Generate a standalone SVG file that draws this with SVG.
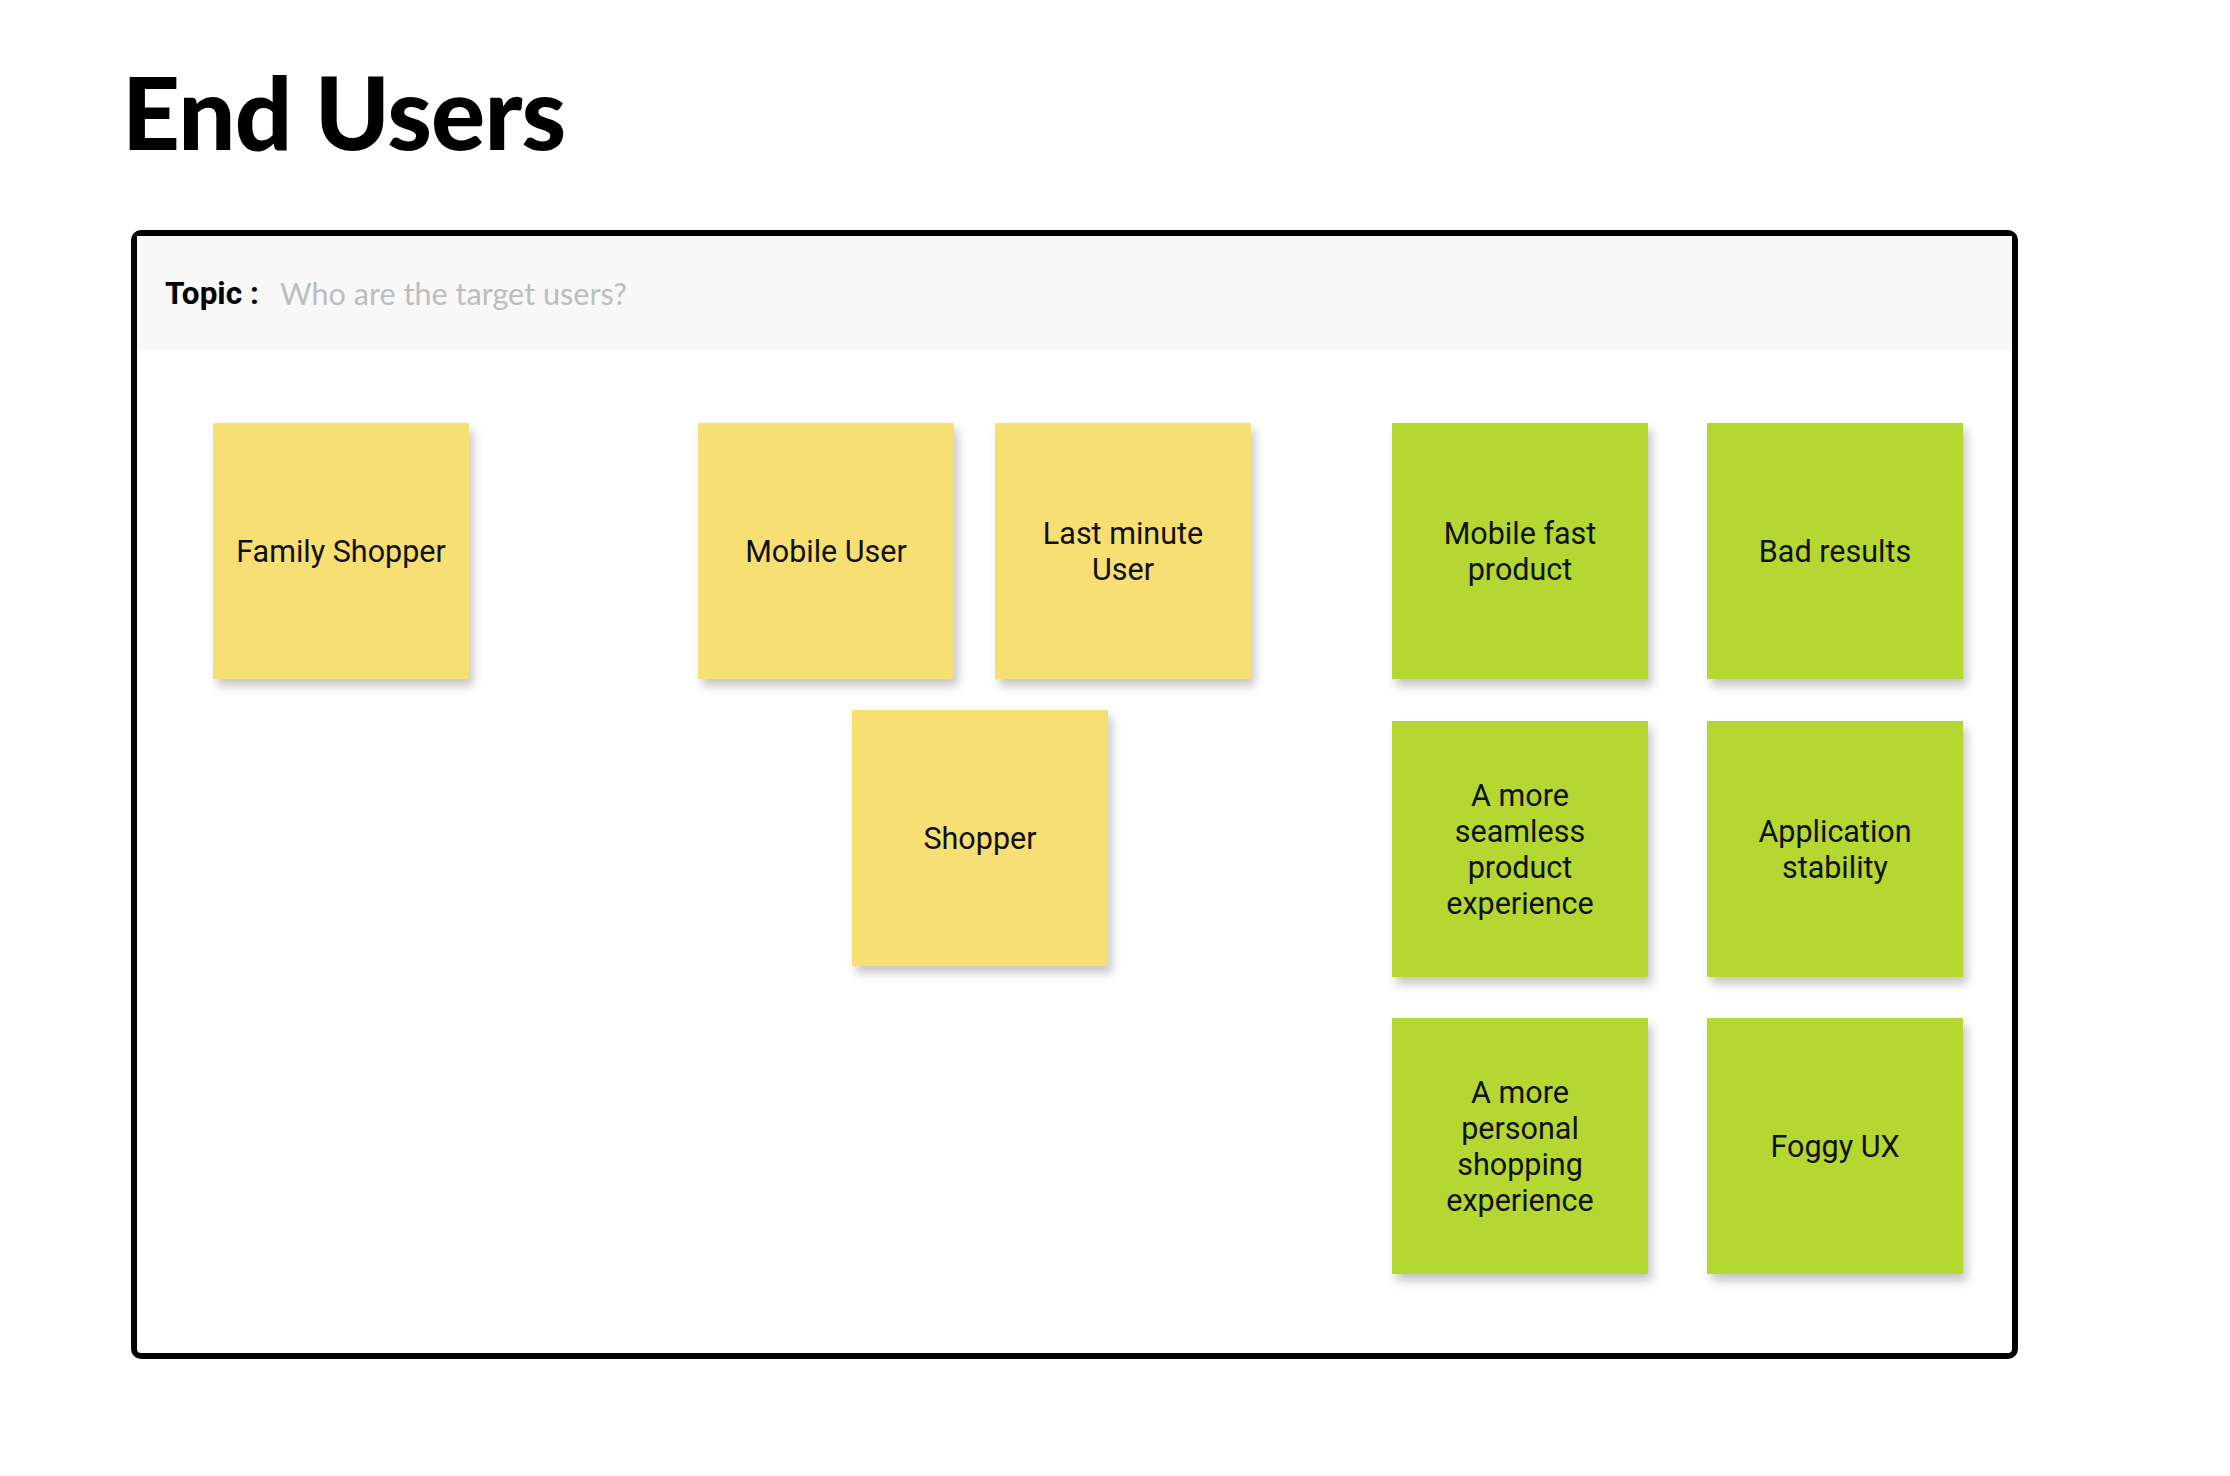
<svg xmlns="http://www.w3.org/2000/svg" width="2230" height="1476" viewBox="0 0 2230 1476">
  <defs>
    <filter id="shadow" x="-10%" y="-10%" width="130%" height="130%">
      <feDropShadow dx="4" dy="7" stdDeviation="5" flood-color="#000" flood-opacity="0.22"/>
    </filter>
    <style>
      .note-y { fill: #F7DF73; filter: url(#shadow); }
      .note-g { fill: #B4D733; filter: url(#shadow); }
      .label { font-family: Roboto, "Liberation Sans", sans-serif; font-size: 30.5px; fill: #111; text-anchor: middle; }
      .title { font-family: Lato, "Liberation Sans", sans-serif; font-size: 101px; font-weight: 900; fill: #000; letter-spacing: -0.8px; }
      .topic { font-family: Roboto, "Liberation Sans", sans-serif; font-size: 31.5px; font-weight: 700; fill: #000; }
      .question { font-family: Lato, "Liberation Sans", sans-serif; font-size: 30.6px; fill: #BDBDBD; }
    </style>
  </defs>
  <rect width="2230" height="1476" fill="#fff"/>

  <text class="title" x="122" y="150">End Users</text>

  <g id="frame">
    <rect x="134" y="233" width="1881" height="1123" rx="7" fill="#fff" stroke="#000" stroke-width="6"/>
    <rect x="137" y="236" width="1875" height="114" fill="#F8F8F8"/>
    <text class="topic" x="165" y="304">Topic :</text>
    <text class="question" x="280" y="305">Who are the target users?</text>
  </g>

  <g id="connectors"></g>

  <g id="family-shopper">
    <rect class="note-y" x="213" y="423" width="256" height="256"/>
    <text class="label" x="341" y="561.5">Family Shopper</text>
  </g>
  <g id="mobile-user">
    <rect class="note-y" x="698" y="423" width="256" height="256"/>
    <text class="label" x="826" y="561.5">Mobile User</text>
  </g>
  <g id="last-minute-user">
    <rect class="note-y" x="995" y="423" width="256" height="256"/>
    <text class="label" x="1123" y="543.5">Last minute</text>
    <text class="label" x="1123" y="579.5">User</text>
  </g>
  <g id="shopper">
    <rect class="note-y" x="852" y="710" width="256" height="256"/>
    <text class="label" x="980" y="848.5">Shopper</text>
  </g>
  <g id="mobile-fast-product">
    <rect class="note-g" x="1392" y="423" width="256" height="256"/>
    <text class="label" x="1520" y="543.5">Mobile fast</text>
    <text class="label" x="1520" y="579.5">product</text>
  </g>
  <g id="bad-results">
    <rect class="note-g" x="1707" y="423" width="256" height="256"/>
    <text class="label" x="1835" y="561.5">Bad results</text>
  </g>
  <g id="seamless-experience">
    <rect class="note-g" x="1392" y="721" width="256" height="256"/>
    <text class="label" x="1520" y="805.5">A more</text>
    <text class="label" x="1520" y="841.5">seamless</text>
    <text class="label" x="1520" y="877.5">product</text>
    <text class="label" x="1520" y="913.5">experience</text>
  </g>
  <g id="application-stability">
    <rect class="note-g" x="1707" y="721" width="256" height="256"/>
    <text class="label" x="1835" y="841.5">Application</text>
    <text class="label" x="1835" y="877.5">stability</text>
  </g>
  <g id="personal-shopping">
    <rect class="note-g" x="1392" y="1018" width="256" height="256"/>
    <text class="label" x="1520" y="1102.5">A more</text>
    <text class="label" x="1520" y="1138.5">personal</text>
    <text class="label" x="1520" y="1174.5">shopping</text>
    <text class="label" x="1520" y="1210.5">experience</text>
  </g>
  <g id="foggy-ux">
    <rect class="note-g" x="1707" y="1018" width="256" height="256"/>
    <text class="label" x="1835" y="1156.5">Foggy UX</text>
  </g>
</svg>
